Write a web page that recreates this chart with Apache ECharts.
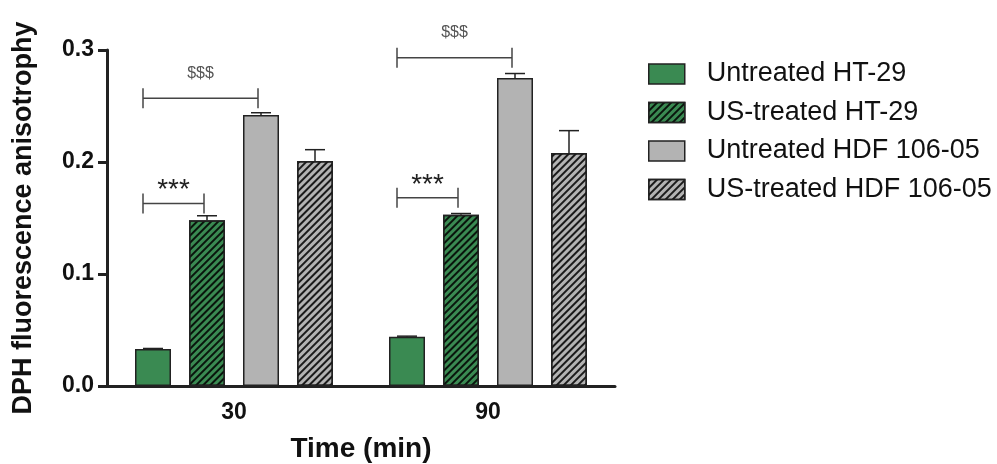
<!DOCTYPE html>
<html>
<head>
<meta charset="utf-8">
<script src="https://cdn.jsdelivr.net/npm/echarts@6/dist/echarts.min.js"></script>
<style>html,body{margin:0;padding:0;background:#fff}#c{width:997px;height:464px}</style>
</head>
<body>
<div id="c"></div>
<script>
const categories = ['30', '90'];
const seriesNames = ['Untreated HT-29', 'US-treated HT-29', 'Untreated HDF 106-05', 'US-treated HDF 106-05'];
const untreatedHT29 = [0.033, 0.044];
const usTreatedHT29 = [0.148, 0.153];
const untreatedHDF = [0.242, 0.275];
const usTreatedHDF = [0.201, 0.208];
const errUntreatedHT29 = [0.0005, 0.0005];
const errUsTreatedHT29 = [0.004, 0.001];
const errUntreatedHDF = [0.002, 0.004];
const errUsTreatedHDF = [0.010, 0.020];
// brackets: [categoryIndex, fromBar, toBar, yValue, label]
const brackets = [
  [0, 0, 2, 0.257, '$$$'],
  [0, 0, 1, 0.163, '***'],
  [1, 0, 2, 0.293, '$$$'],
  [1, 0, 1, 0.168, '***']
];
const yTicks = {min: 0, max: 0.3, interval: 0.1};

const values = [untreatedHT29, usTreatedHT29, untreatedHDF, usTreatedHDF];
const errors = [errUntreatedHT29, errUsTreatedHT29, errUntreatedHDF, errUsTreatedHDF];
const GREEN = '#3a8a52', GRAY = '#b3b3b3', EDGE = '#222';
const FONT = '"Liberation Sans", Arial, sans-serif';
const fills = [GREEN, GREEN, GRAY, GRAY];
const hatched = [false, true, false, true];
const BAR_W = 36, STEP = 54;
const barOffset = s => -81 + STEP * s;

const chart = echarts.init(document.getElementById('c'), null, {renderer: 'canvas'});

const barSeries = values.map((v, s) => {
  const itemStyle = {color: fills[s], borderColor: EDGE, borderWidth: 1.5};
  if (hatched[s]) {
    itemStyle.decal = {
      symbol: 'rect', symbolSize: 1,
      dashArrayX: [1, 0], dashArrayY: [1.6, 2.8],
      rotation: -Math.PI / 4,
      color: 'rgba(0,0,0,0.85)'
    };
  }
  return {
    name: seriesNames[s],
    type: 'bar',
    data: v,
    barWidth: BAR_W,
    barGap: '50%',
    itemStyle,
    emphasis: {disabled: true},
    z: 2
  };
});

const errData = [];
errors.forEach((arr, s) => arr.forEach((e, i) => errData.push([i, values[s][i], e, s])));

const errSeries = {
  type: 'custom',
  name: 'err',
  data: errData,
  z: 5,
  silent: true,
  renderItem: (params, api) => {
    const i = api.value(0), v = api.value(1), e = api.value(2), s = api.value(3);
    const base = api.coord([i, v]);
    const top = api.coord([i, v + e]);
    const x = base[0] + barOffset(s);
    return {
      type: 'group',
      children: [
        {type: 'line', shape: {x1: x, y1: base[1], x2: x, y2: top[1]}, style: {stroke: EDGE, lineWidth: 1.5}},
        {type: 'line', shape: {x1: x - 10, y1: top[1], x2: x + 10, y2: top[1]}, style: {stroke: EDGE, lineWidth: 1.5}}
      ]
    };
  },
  encode: {x: 0, y: 1}
};

const brSeries = {
  type: 'custom',
  name: 'br',
  data: brackets,
  z: 6,
  silent: true,
  renderItem: (params, api) => {
    const d = brackets[params.dataIndex];
    const p = api.coord([d[0], d[3]]);
    const x0 = p[0] + barOffset(d[1]) - 10;
    const x1 = p[0] + barOffset(d[2]) - 3;
    const y = p[1];
    const isStar = d[4] === '***';
    return {
      type: 'group',
      children: [
        {type: 'line', shape: {x1: x0, y1: y, x2: x1, y2: y}, style: {stroke: '#444', lineWidth: 1.5}},
        {type: 'line', shape: {x1: x0, y1: y - 10, x2: x0, y2: y + 10}, style: {stroke: '#444', lineWidth: 1.5}},
        {type: 'line', shape: {x1: x1, y1: y - 10, x2: x1, y2: y + 10}, style: {stroke: '#444', lineWidth: 1.5}},
        {type: 'text', x: (x0 + x1) / 2, y: isStar ? y - 13 : y - 25,
          style: {text: d[4], fill: isStar ? '#222' : '#555', font: isStar ? '28px ' + FONT : '16px ' + FONT, align: 'center', verticalAlign: 'middle'}}
      ]
    };
  },
  encode: {x: 0, y: 3}
};

chart.setOption({
  animation: false,
  backgroundColor: '#fff',
  grid: {left: 107, right: 382, top: 50, bottom: 78, containLabel: false, outerBoundsMode: 'none'},
  legend: {
    data: seriesNames,
    orient: 'vertical',
    left: 643,
    top: 55.5,
    itemWidth: 36,
    itemHeight: 20,
    itemGap: 11.5,
    selectedMode: false,
    icon: 'rect',
    textStyle: {fontFamily: FONT, fontSize: 27, color: '#111', padding: [0, 0, 0, 17], lineHeight: 27},
    itemStyle: {borderColor: EDGE, borderWidth: 1.5}
  },
  xAxis: {
    type: 'category',
    data: categories,
    boundaryGap: true,
    name: 'Time (min)',
    nameLocation: 'middle',
    nameGap: 49,
    nameTextStyle: {fontFamily: FONT, fontWeight: 'bold', fontSize: 28, color: '#111'},
    axisLine: {lineStyle: {color: EDGE, width: 3}},
    axisTick: {alignWithLabel: true, length: 10, lineStyle: {color: EDGE, width: 3}},
    axisLabel: {margin: 15, fontFamily: FONT, fontWeight: 'bold', fontSize: 23, color: '#111'},
    splitLine: {show: false}
  },
  yAxis: {
    type: 'value',
    min: yTicks.min, max: yTicks.max, interval: yTicks.interval,
    name: 'DPH fluorescence anisotrophy',
    nameLocation: 'middle',
    nameGap: 70,
    nameTextStyle: {fontFamily: FONT, fontWeight: 'bold', fontSize: 27, color: '#111'},
    axisLine: {show: true, lineStyle: {color: EDGE, width: 3}},
    axisTick: {show: true, length: 9, lineStyle: {color: EDGE, width: 3}},
    axisLabel: {margin: 13, fontFamily: FONT, fontWeight: 'bold', fontSize: 23, color: '#111', formatter: v => v.toFixed(1)},
    splitLine: {show: false}
  },
  series: [...barSeries, errSeries, brSeries]
});
</script>
</body>
</html>
